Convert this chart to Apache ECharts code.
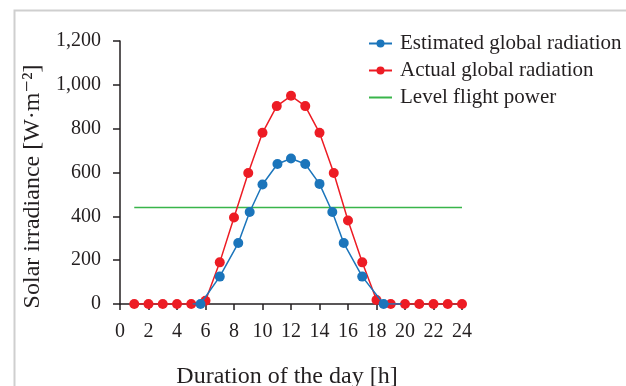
<!DOCTYPE html>
<html>
<head>
<meta charset="utf-8">
<script src="https://cdn.jsdelivr.net/npm/echarts@6/dist/echarts.min.js"></script>
<style>
  html, body { margin: 0; padding: 0; background: #fff; }
  #chart { width: 626px; height: 386px; }
</style>
</head>
<body>
<div id="chart"></div>
<script>
// hours of the day (x) and irradiance in W/m2 (y)
var actualHours = [1, 2, 3, 4, 5, 6, 7, 8, 9, 10, 11, 12, 13, 14, 15, 16, 17, 18, 19, 20, 21, 22, 23, 24];
var actualValues = [0, 0, 0, 0, 0, 15, 190, 395, 598, 781, 903, 950, 903, 781, 598, 381, 190, 18, 0, 0, 0, 0, 0, 0];

var estimatedHours = [5.1, 5.65, 7, 8.3, 9.1, 10, 11.05, 12, 13, 14, 14.9, 15.7, 17, 18.5, 19.75];
var estimatedValues = [0, 0, 125, 278, 420, 545, 639, 664, 639, 548, 420, 278, 125, 0, 0];
// first and last estimated points have no visible marker
var estimatedHidden = [0, 14];

var flightHours = [1, 24];
var flightValues = [440, 440];

var xTicks = { min: 0, max: 24, step: 2 };
var yTicks = { min: 0, max: 1200, step: 200 };

function pairs(xs, ys) {
    var out = [];
    for (var i = 0; i < xs.length; i++) {
        out.push([xs[i], ys[i]]);
    }
    return out;
}

var estimatedData = pairs(estimatedHours, estimatedValues).map(function (p, i) {
    if (estimatedHidden.indexOf(i) >= 0) {
        return { value: p, symbol: 'none' };
    }
    return p;
});

var textColor = '#231f20';
var fontFamily = '"Liberation Serif", "DejaVu Serif", serif';

var chart = echarts.init(document.getElementById('chart'));

var option = {
    animation: false,
    textStyle: { fontFamily: fontFamily, color: textColor },
    graphic: [
        {
            type: 'rect',
            left: 12,
            top: 8,
            shape: { width: 700, height: 500 },
            style: { fill: 'none', stroke: '#cfcfcf', lineWidth: 2 },
            silent: true
        }
    ],
    legend: {
        orient: 'vertical',
        left: 363,
        top: 28,
        itemWidth: 23,
        itemHeight: 10,
        itemGap: 6,
        textStyle: { fontFamily: fontFamily, fontSize: 21, color: textColor, padding: [0, 0, 0, 3] },
        data: [
            'Estimated global radiation',
            'Actual global radiation',
            { name: 'Level flight power', itemStyle: { opacity: 0 } }
        ]
    },
    grid: {
        left: 120,
        right: 164,
        top: 41,
        bottom: 82,
        outerBoundsMode: 'none'
    },
    xAxis: {
        type: 'value',
        min: xTicks.min,
        max: xTicks.max,
        interval: xTicks.step,
        name: 'Duration of the day [h]',
        nameLocation: 'middle',
        nameGap: 61,
        nameTextStyle: { fontFamily: fontFamily, fontSize: 24, color: textColor, padding: [0, 8, 0, 0] },
        axisLine: { lineStyle: { color: textColor, width: 1.5 } },
        axisTick: { inside: false, length: 6, lineStyle: { color: textColor, width: 1.5 } },
        axisLabel: { fontFamily: fontFamily, fontSize: 20, color: textColor, margin: 18 },
        splitLine: { show: false }
    },
    yAxis: {
        type: 'value',
        min: yTicks.min,
        max: yTicks.max,
        interval: yTicks.step,
        name: 'Solar irradiance [W\u00b7m\u207b\u00b2]',
        nameLocation: 'middle',
        nameGap: 72,
        nameRotate: 90,
        nameTextStyle: { fontFamily: fontFamily, fontSize: 24, color: textColor, padding: [0, 28, 0, 0] },
        axisLine: { show: true, lineStyle: { color: textColor, width: 1.5 } },
        axisTick: { show: true, inside: false, length: 7, lineStyle: { color: textColor, width: 1.5 } },
        axisLabel: {
            fontFamily: fontFamily,
            fontSize: 20,
            color: textColor,
            margin: 19,
            formatter: function (v) {
                return v.toLocaleString('en-US');
            }
        },
        splitLine: { show: false }
    },
    series: [
        {
            name: 'Actual global radiation',
            type: 'line',
            z: 2,
            data: pairs(actualHours, actualValues),
            symbol: 'circle',
            symbolSize: 10,
            itemStyle: { color: '#ed1c24' },
            lineStyle: { color: '#ed1c24', width: 1.5 }
        },
        {
            name: 'Estimated global radiation',
            type: 'line',
            z: 3,
            data: estimatedData,
            symbol: 'circle',
            symbolSize: 10,
            itemStyle: { color: '#1b75bb' },
            lineStyle: { color: '#1b75bb', width: 1.5 }
        },
        {
            name: 'Level flight power',
            type: 'line',
            z: 1,
            data: pairs(flightHours, flightValues),
            symbol: 'none',
            itemStyle: { color: '#39b54a' },
            lineStyle: { color: '#39b54a', width: 1.5 }
        }
    ]
};

chart.setOption(option);
</script>
</body>
</html>
